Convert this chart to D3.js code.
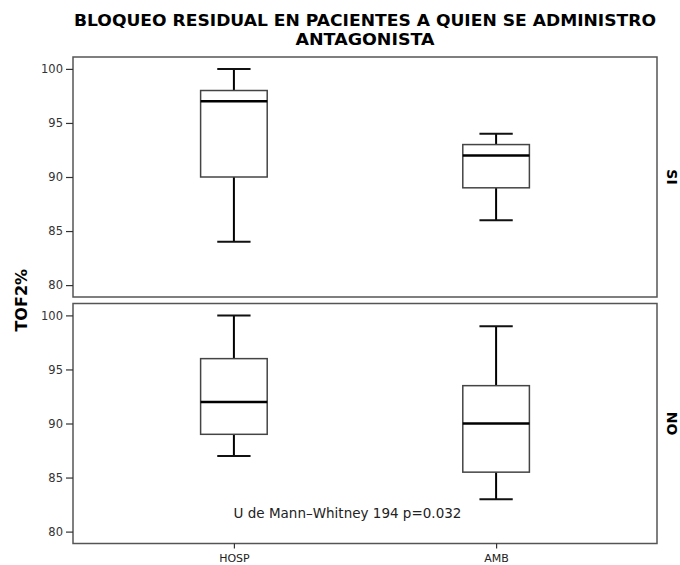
<!DOCTYPE html>
<html><head><meta charset="utf-8">
<script src="https://cdn.jsdelivr.net/npm/d3@7"></script>
<style>body{margin:0;background:#fff}svg{display:block}</style>
</head><body>
<script>
const titleLines = ["BLOQUEO RESIDUAL EN PACIENTES A QUIEN SE ADMINISTRO", "ANTAGONISTA"];
const categories = ["HOSP", "AMB"];
const panels = ["SI", "NO"];
const yTicks = [80, 85, 90, 95, 100];
const yLabel = "TOF2%";
const annotation = "U de Mann\u2013Whitney 194 p=0.032";
// SI panel
const siLow = [84, 86];
const siQ1 = [90, 89];
const siMedian = [97, 92];
const siQ3 = [98, 93];
const siHigh = [100, 94];
// NO panel
const noLow = [87, 83];
const noQ1 = [89, 85.5];
const noMedian = [92, 90];
const noQ3 = [96, 93.5];
const noHigh = [100, 99];

const W = 680, H = 565;
const left = 73, right = 657;
const panelTops = [57, 303.5], panelH = 240;
const panelData = [
  {name: panels[0], low: siLow, q1: siQ1, med: siMedian, q3: siQ3, high: siHigh},
  {name: panels[1], low: noLow, q1: noQ1, med: noMedian, q3: noQ3, high: noHigh}
];

const svg = d3.select("body").append("svg").attr("width", W).attr("height", H);
const font = "'DejaVu Sans', sans-serif";

// title
const titleWidths = [582, 139];
svg.selectAll("text.title").data(titleLines).enter().append("text")
  .attr("class", "title")
  .attr("x", (left + right) / 2).attr("y", (d, i) => 25.5 + i * 19.5)
  .attr("text-anchor", "middle").attr("font-family", font).attr("font-weight", "bold")
  .attr("font-size", 16.5).attr("fill", "#000")
  .attr("textLength", (d, i) => titleWidths[i]).attr("lengthAdjust", "spacingAndGlyphs")
  .text(d => d);

const x = d3.scalePoint().domain(categories).range([left, right]).padding(0.6137);
const step = x.step();
const boxW = step * 0.254, capW = boxW / 2;

panelData.forEach((p, pi) => {
  const top = panelTops[pi];
  const y = d3.scaleLinear().domain([78.9, 101.1]).range([top + panelH, top]);
  const g = svg.append("g");
  // frame
  g.append("rect").attr("x", left).attr("y", top).attr("width", right - left).attr("height", panelH)
    .attr("fill", "none").attr("stroke", "#555").attr("stroke-width", 1.5);
  // y axis
  const ax = g.append("g").attr("transform", `translate(${left},0)`)
    .call(d3.axisLeft(y).tickValues(yTicks).tickSize(7).tickPadding(3).tickFormat(d3.format("d")));
  ax.select(".domain").remove();
  ax.selectAll("line").attr("stroke", "#333").attr("stroke-width", 1.2);
  ax.selectAll("text").attr("font-family", font).attr("font-size", 11.5).attr("fill", "#333");
  // panel label
  g.append("text").attr("transform", `translate(671.5,${top + panelH / 2}) rotate(90)`)
    .attr("text-anchor", "middle").attr("dominant-baseline", "central")
    .attr("font-family", font).attr("font-weight", "bold").attr("font-size", 14).text(p.name);

  categories.forEach((c, i) => {
    const cx = x(c);
    // whiskers
    g.append("line").attr("x1", cx).attr("x2", cx).attr("y1", y(p.high[i])).attr("y2", y(p.q3[i]))
      .attr("stroke", "#000").attr("stroke-width", 2);
    g.append("line").attr("x1", cx).attr("x2", cx).attr("y1", y(p.q1[i])).attr("y2", y(p.low[i]))
      .attr("stroke", "#000").attr("stroke-width", 2);
    [p.high[i], p.low[i]].forEach(v => {
      g.append("line").attr("x1", cx - capW / 2).attr("x2", cx + capW / 2).attr("y1", y(v)).attr("y2", y(v))
        .attr("stroke", "#111").attr("stroke-width", 2);
    });
    // box
    g.append("rect").attr("x", cx - boxW / 2).attr("width", boxW)
      .attr("y", y(p.q3[i])).attr("height", y(p.q1[i]) - y(p.q3[i]))
      .attr("fill", "#fff").attr("stroke", "#444").attr("stroke-width", 1.5);
    // median
    g.append("line").attr("x1", cx - boxW / 2).attr("x2", cx + boxW / 2)
      .attr("y1", y(p.med[i])).attr("y2", y(p.med[i])).attr("stroke", "#000").attr("stroke-width", 2.5);
  });

  if (pi === 1) {
    const bx = svg.append("g").attr("transform", `translate(0,${top + panelH})`)
      .call(d3.axisBottom(x).tickSize(5).tickPadding(6));
    bx.select(".domain").remove();
    bx.selectAll("line").attr("stroke", "#333").attr("stroke-width", 1.2);
    bx.selectAll("text").attr("font-family", font).attr("font-size", 11).attr("fill", "#222");
    g.append("text").attr("x", 347.5).attr("y", 518).attr("text-anchor", "middle")
      .attr("font-family", font).attr("font-size", 13.5).attr("fill", "#222").text(annotation);
  }
});

// y label
svg.append("text").attr("transform", `translate(21,${(panelTops[0] + panelTops[1] + panelH) / 2}) rotate(-90)`)
  .attr("text-anchor", "middle").attr("dominant-baseline", "central")
  .attr("font-family", font).attr("font-weight", "bold").attr("font-size", 16).text(yLabel);
</script>
</body></html>
